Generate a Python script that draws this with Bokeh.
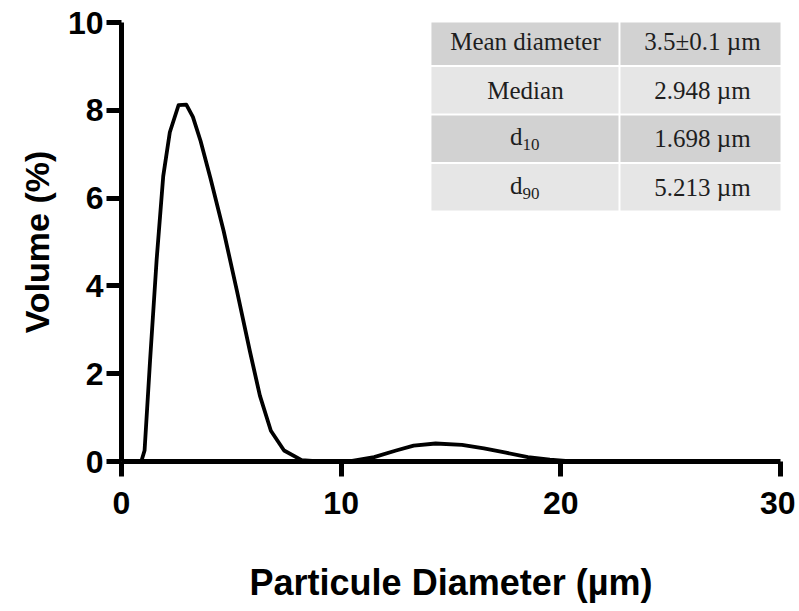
from bokeh.plotting import figure
from bokeh.models import Range1d, FixedTicker, ColumnDataSource, BoxAnnotation
from bokeh.core.properties import value
from bokeh.embed import file_html
from bokeh.resources import INLINE

# ---- data ----
diameter = [0.9, 1.05, 1.3, 1.6, 1.9, 2.2, 2.6, 2.95, 3.25, 3.6, 4.05, 4.65, 5.25,
            5.85, 6.3, 6.8, 7.4, 8.2, 9.0, 10.3, 11.5, 12.5, 13.3, 14.3, 15.5,
            16.5, 17.5, 18.5, 19.5, 20.5]
volume = [0.0, 0.25, 2.3, 4.6, 6.5, 7.5, 8.12, 8.13, 7.85, 7.3, 6.45, 5.25, 3.9,
          2.5, 1.5, 0.7, 0.25, 0.03, 0.0, 0.0, 0.1, 0.25, 0.36, 0.41, 0.38,
          0.3, 0.2, 0.1, 0.04, 0.0]
x_ticks = [0, 10, 20, 30]
y_ticks = [0, 2, 4, 6, 8, 10]
table_labels = ["Mean diameter", "Median", "d", "d"]
table_subs = ["", "", "10", "90"]
table_values = ["3.5\u00b10.1 \u00b5m", "2.948 \u00b5m", "1.698 \u00b5m", "5.213 \u00b5m"]

# ---- layout constants ----
W, H = 795, 605
p = figure(width=W, height=H, output_backend="svg", toolbar_location=None,
           x_range=Range1d(0, 30), y_range=Range1d(0, 10),
           min_border_left=121, min_border_right=15, min_border_top=22,
           min_border_bottom=142)
p.outline_line_color = None
p.xgrid.visible = False
p.ygrid.visible = False
p.background_fill_color = "white"

p.line(diameter, volume, line_width=3.8, line_color="black", line_join="round")

# table
tbl_left, tbl_mid, tbl_right = 14.11, 22.67, 30.23
tbl_top, row_h, gap_y, gap_x = 10.09, 1.105, 0.045, 0.09
row_colors = ["#d2d2d2", "#e6e6e6"]
font_tbl = value("Liberation Serif")
lab_x, lab_y, val_x = [], [], []
for i in range(len(table_labels)):
    top = tbl_top - i * row_h
    bot = top - row_h + gap_y
    col = row_colors[i % 2]
    p.add_layout(BoxAnnotation(left=tbl_left, right=tbl_mid - gap_x / 2, top=top, bottom=bot,
                               fill_color=col, fill_alpha=1, line_color=None, level="underlay"))
    p.add_layout(BoxAnnotation(left=tbl_mid + gap_x / 2, right=tbl_right, top=top, bottom=bot,
                               fill_color=col, fill_alpha=1, line_color=None, level="underlay"))
    lab_y.append((top + bot) / 2)
    lab_x.append((tbl_left + tbl_mid) / 2)
    val_x.append((tbl_mid + tbl_right) / 2)

plain = [i for i, s in enumerate(table_subs) if s == ""]
subbed = [i for i, s in enumerate(table_subs) if s != ""]
src_plain = ColumnDataSource(dict(x=[lab_x[i] for i in plain], y=[lab_y[i] for i in plain],
                                  t=[table_labels[i] for i in plain]))
src_sub = ColumnDataSource(dict(x=[lab_x[i] for i in subbed], y=[lab_y[i] for i in subbed],
                                t=[table_labels[i] for i in subbed],
                                s=[table_subs[i] for i in subbed]))
src_val = ColumnDataSource(dict(x=val_x, y=lab_y, t=table_values))
tc = "#1e1e1e"
p.text(x="x", y="y", text="t", source=src_plain, text_font=font_tbl, text_font_size="25px",
       text_align="center", text_baseline="middle", text_color=tc)
p.text(x="x", y="y", text="t", source=src_sub, text_font=font_tbl, text_font_size="25px",
       text_align="right", text_baseline="middle", text_color=tc, x_offset=-3, y_offset=-2)
p.text(x="x", y="y", text="s", source=src_sub, text_font=font_tbl, text_font_size="17px",
       text_align="left", text_baseline="middle", text_color=tc, x_offset=-3, y_offset=6)
p.text(x="x", y="y", text="t", source=src_val, text_font=font_tbl, text_font_size="25px",
       text_align="center", text_baseline="middle", text_color=tc)

# axes
p.xaxis.ticker = FixedTicker(ticks=x_ticks)
p.yaxis.ticker = FixedTicker(ticks=y_ticks)
for ax in (p.xaxis[0], p.yaxis[0]):
    ax.axis_line_width = 5
    ax.axis_line_color = "black"
    ax.major_tick_line_width = 5
    ax.major_tick_line_color = "black"
    ax.major_tick_in = 0
    ax.major_tick_out = 15
    ax.minor_tick_line_color = None
    ax.major_label_text_font = "Liberation Sans"
    ax.major_label_text_font_style = "bold"
    ax.major_label_text_font_size = "32px"
    ax.major_label_text_color = "black"
    ax.axis_label_text_font = "Liberation Sans"
    ax.axis_label_text_font_style = "bold"
    ax.axis_label_text_color = "black"

p.xaxis.axis_label = "Particule Diameter (\u00b5m)"
p.xaxis.axis_label_text_font_size = "36px"
p.xaxis.major_label_standoff = 15
p.xaxis.axis_label_standoff = 45
p.yaxis.axis_label = "Volume (%)"
p.yaxis.axis_label_text_font_size = "34px"
p.yaxis.major_label_standoff = 3
p.yaxis.axis_label_standoff = 9

open("out.html", "w").write(file_html(p, INLINE))
